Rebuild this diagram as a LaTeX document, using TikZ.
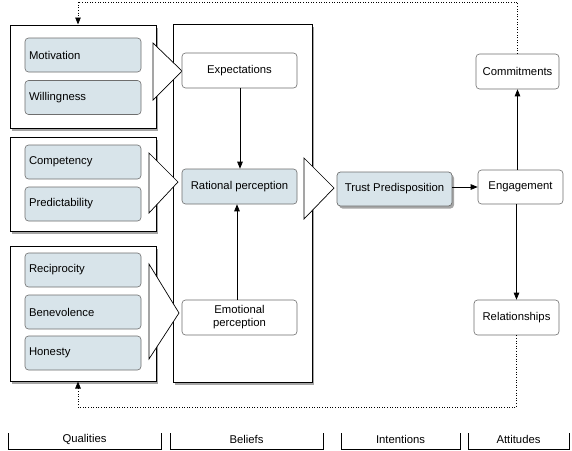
\documentclass[tikz,border=0pt]{standalone}
\usepackage{fontspec}
\setmainfont{Liberation Sans}
\usetikzlibrary{arrows.meta,shadows,calc}
\definecolor{qblue}{HTML}{D8E4EA}
\definecolor{bgray}{HTML}{6E6E6E}
\begin{document}
\begin{tikzpicture}[x=1pt,y=-1pt,
  every node/.style={font=\fontsize{11.3}{13}\selectfont},
  group/.style={draw=black,line width=1pt,fill=white,minimum width=146pt,
    drop shadow={shadow xshift=2pt,shadow yshift=-2.5pt,fill=black,opacity=0.35}},
  quality/.style={draw=bgray,line width=0.6pt,fill=qblue,rounded corners=3.5pt,
    minimum width=116pt,minimum height=34pt,text width=108pt,align=left,inner xsep=4pt},
  belief/.style={draw=bgray,line width=0.6pt,fill=white,rounded corners=3.5pt,
    minimum width=115pt,minimum height=35pt,align=center,inner sep=1pt},
  att/.style={draw=bgray,line width=0.6pt,fill=white,rounded corners=3.5pt,
    minimum height=35pt,align=center,inner sep=1pt},
  conn/.style={line width=0.7pt,-{Triangle[length=7pt,width=5.5pt]}},
  fb/.style={line width=0.8pt,dash pattern=on 1pt off 1.6pt},
  fbarrow/.style={fb,-{Triangle[length=7pt,width=5.5pt]}},
  bigarrow/.style={draw=black,line width=0.7pt,fill=white,line join=miter},
  bracket/.style={draw=black,line width=0.7pt},
]
\useasboundingbox (0,0) rectangle (572,450);

% group boxes
\node[group,minimum height=103pt] (g1) at (83,76.5) {};
\node[group,minimum height=94pt] (g2) at (83,184) {};
\node[group,minimum height=135pt] (g3) at (83,313.5) {};
\node[group,minimum width=139pt,minimum height=358pt] (bel) at (242.5,203) {};

% qualities
\node[quality] (mot) at (83,55) {Motivation};
\node[quality] (wil) at (83,97.5) {Willingness};
\node[quality] (com) at (83,162) {Competency};
\node[quality] (pre) at (83,204) {Predictability};
\node[quality] (rec) at (83,270) {Reciprocity};
\node[quality] (ben) at (83,312) {Benevolence};
\node[quality] (hon) at (83,353) {Honesty};

% big arrows
\draw[bigarrow] (153,43) -- (182,71) -- (153,100) -- cycle;
\draw[bigarrow] (149,153) -- (178,182) -- (149,213) -- cycle;
\draw[bigarrow] (149,264) -- (179,313) -- (149,359) -- cycle;
\draw[bigarrow] (304,158) -- (334,188) -- (304,219) -- cycle;

% beliefs
\node[belief] (exp) at (239.5,70.5) {Expectations};
\node[belief,fill=qblue] (rat) at (239.5,186.5) {Rational perception};
\node[belief] (emo) at (239.5,317.5) {Emotional\\perception};

% intentions / attitudes
\node[belief,fill=qblue,minimum height=34pt,line width=0.7pt,
  drop shadow={shadow xshift=2pt,shadow yshift=-2.5pt,fill=black,opacity=0.35}] (tru) at (394.5,189) {Trust Predisposition};
\node[att,minimum width=85pt,minimum height=34pt] (eng) at (520.5,187) {Engagement};
\node[att,minimum width=83pt] (cmt) at (517.5,71.5) {Commitments};
\node[att,minimum width=85pt] (rel) at (516.5,317.5) {Relationships};

% connectors
\draw[conn] ([xshift=0.5pt]exp.south) -- ([xshift=0.5pt]rat.north);
\draw[conn] ([xshift=-2.5pt]emo.north) -- ([xshift=-2.5pt]rat.south);
\draw[conn] (tru.east |- eng.west) -- (eng.west);
\draw[conn] (eng.north -| cmt.south) -- (cmt.south);
\draw[conn] (eng.south -| rel.north) -- (rel.north);

% feedback loops
\coordinate (ftop) at ([xshift=-5pt]g1.north);
\coordinate (fbot) at ([xshift=-5pt]g3.south);
\draw[fbarrow] (cmt.north) -- (cmt.north |- 0,2) -| (ftop);
\draw[fbarrow] (rel.south) -- (rel.south |- 0,407) -| (fbot);

% bottom labels
\draw[bracket] (8,433) -- (8,449) -- (161,449) -- (161,433);
\node (lq) at (84.5,439) {Qualities};
\draw[bracket] (170,433) -- (170,449) -- (323,449) -- (323,433);
\node (lb) at (246.5,439) {Beliefs};
\draw[bracket] (341,433) -- (341,449) -- (460,449) -- (460,433);
\node (li) at (400.5,439) {Intentions};
\draw[bracket] (468,433) -- (468,449) -- (569,449) -- (569,433);
\node (la) at (518.5,439) {Attitudes};
\end{tikzpicture}
\end{document}
